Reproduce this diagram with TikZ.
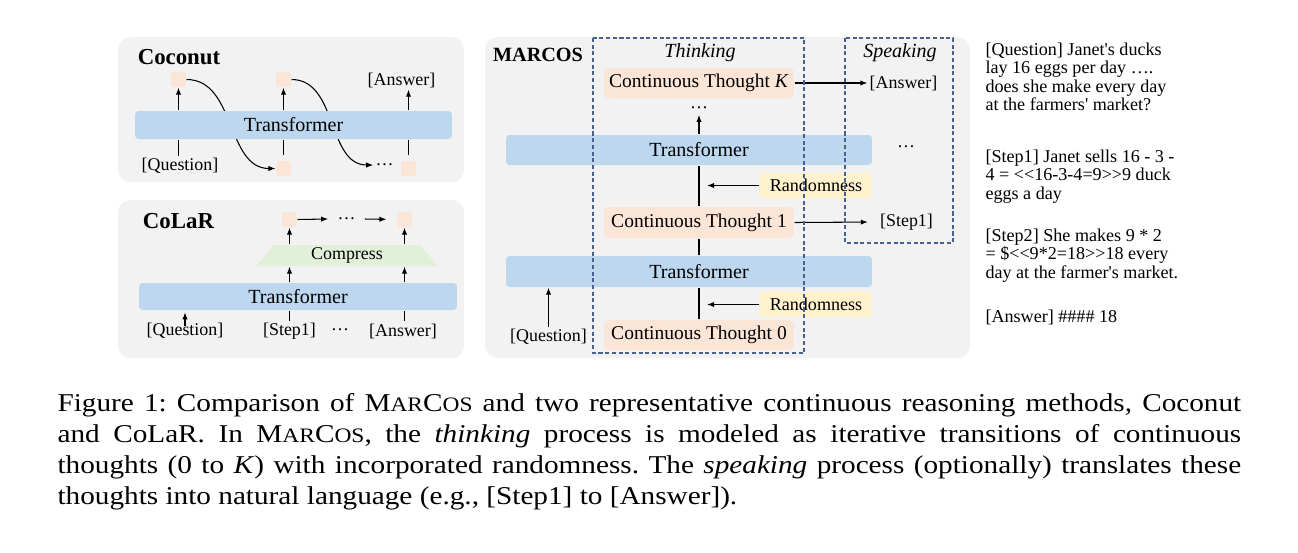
\documentclass[tikz,border=0pt]{standalone}
\usepackage{fontspec}
\setmainfont{Liberation Serif}
\newfontfamily\notefont{Liberation Serif}[Ligatures=TeXOff]
\newfontfamily\capfont{Liberation Serif}[FakeStretch=1.14]
\usetikzlibrary{shapes.geometric}
\usetikzlibrary{arrows.meta}
\usetikzlibrary{calc}

\definecolor{panelgray}{HTML}{F2F2F2}
\definecolor{barblue}{HTML}{BDD7EE}
\definecolor{tokpeach}{HTML}{FBE5D6}
\definecolor{noiseyellow}{HTML}{FFF2CC}
\definecolor{compgreen}{HTML}{E2F0D9}
\definecolor{dashblue}{HTML}{4A6090}

\newcommand{\smallcap}[1]{{\fontsize{11.7}{17.6}\selectfont #1}}
\newcommand{\marcosname}{M\smallcap{AR}C\smallcap{OS}}
\newcommand{\capsetup}{\frenchspacing\tolerance=9999\relax\hyphenpenalty=10000\relax}

\begin{document}
\begin{tikzpicture}[x=0.02cm, y=-0.02cm, >={Latex[length=4pt,width=3pt]}, semithick,
	panel/.style={fill=panelgray, rounded corners=7pt},
	bar/.style={fill=barblue, rounded corners=2pt, inner sep=0pt, font=\fontsize{11.4}{13}\selectfont},
	tok/.style={fill=tokpeach, rounded corners=1pt, minimum size=0.3cm, inner sep=0pt},
	thought/.style={fill=tokpeach, rounded corners=3pt, minimum width=3.8cm, minimum height=0.62cm, inner sep=0pt, font=\fontsize{11.1}{13}\selectfont},
	noise/.style={fill=noiseyellow, rounded corners=2pt, minimum width=2.24cm, minimum height=0.5cm, inner sep=0pt, font=\fontsize{10.3}{12}\selectfont},
	lbl/.style={inner sep=1pt, font=\fontsize{10.2}{12}\selectfont},
	title/.style={font=\fontsize{13}{15}\selectfont\bfseries},
	phase/.style={font=\fontsize{11.4}{13}\selectfont\itshape},
	phasebox/.style={draw=dashblue, dash pattern=on 2.3pt off 1.5pt, line width=0.6pt},
	note/.style={anchor=north west, align=left, inner sep=0pt, font=\notefont\fontsize{10.3}{10.6}\selectfont}]

	\useasboundingbox (0,0) rectangle (1298,552);

	% panels
	\fill[panel] (118,37) rectangle (464,182);
	\fill[panel] (118,200) rectangle (464,358);
	\fill[panel] (485,37) rectangle (970,358);

	% Coconut
	\node[title] (cotitle) at (179,57) {Coconut};
	\node[tok] (ca1) at (178.5,79.5) {};
	\node[tok] (ca2) at (283.5,79.5) {};
	\node[lbl] (cans) at (401.5,80) {[Answer]};
	\node[tok] (cb2) at (283.5,168.5) {};
	\node[tok] (cb3) at (408.5,168.5) {};
	\node[lbl] (cq) at (180,166) {[Question]};
	\node[lbl] (cdots) at (384.5,165) {\dots};
	\draw[->] (ca1.east) to[out=0,in=180] (cb2.west);
	\draw[->] (ca2.east) to[out=0,in=180] (cdots.west);
	\node[bar, minimum width=6.34cm, minimum height=0.56cm] (cbar) at (293.5,125) {Transformer};
	\draw[->] (cbar.north -| ca1) -- (ca1.south);
	\draw[->] (cbar.north -| ca2) -- (ca2.south);
	\draw[->] (cbar.north -| cb3) -- (cans.south -| cb3);
	\draw (cbar.south -| ca1) -- (cq.north -| ca1);
	\draw[shorten >=0.1cm] (cbar.south -| cb2) -- (cb2.north);
	\draw[shorten >=0.1cm] (cbar.south -| cb3) -- (cb3.north);

	% CoLaR
	\node[title] (cltitle) at (178.5,221) {CoLaR};
	\node[tok] (la1) at (289.5,219.5) {};
	\node[tok] (la2) at (404.5,219.5) {};
	\node[lbl, inner sep=5pt] (ldots) at (346.5,219) {\dots};
	\draw[->] (la1.east) -- (ldots.west);
	\draw[->, shorten >=0.2cm] (ldots.east) -- (la2.west);
	\node[trapezium, trapezium angle=62, trapezium stretches=true, minimum width=3.64cm, minimum height=0.42cm,
		fill=compgreen, inner sep=0pt, font=\fontsize{10.2}{12}\selectfont] (comp) at (347,255.5) {Compress};
	\node[bar, minimum width=6.36cm, minimum height=0.54cm] (lbar) at (298,296.5) {Transformer};
	\draw[->] (lbar.north -| la1) -- (comp.south -| la1);
	\draw[->] (lbar.north -| la2) -- (comp.south -| la2);
	\draw[->] (comp.north -| la1) -- (la1.south);
	\draw[->] (comp.north -| la2) -- (la2.south);
	\node[lbl] (lq) at (185,331) {[Question]};
	\node[lbl] (ls1) at (289.5,331) {[Step1]};
	\node[lbl] (ldots2) at (340,330) {\dots};
	\node[lbl] (lans) at (403,331) {[Answer]};
	\draw[->, shorten >=1pt] ([yshift=-3pt]lq.north) -- (lq.north |- lbar.south);
	\draw (ls1.north) -- (ls1.north |- lbar.south);
	\draw (lans.north -| la2) -- (lbar.south -| la2);

	% MARCOS
	\node[title, font=\fontsize{11.5}{14}\selectfont\bfseries] (mtitle) at (538,55) {MARCOS};
	\node[phase] (think) at (700,53) {Thinking};
	\node[phase] (speak) at (900,53) {Speaking};
	\node[thought] (ctK) at (699,83) {Continuous Thought \textit{K}};
	\node[lbl] (ansK) at (903.5,83) {[Answer]};
	\draw[->] (ctK.east) -- (ansK.west);
	\node[lbl] (mdots) at (699,108) {\dots};
	\node[bar, minimum width=7.32cm, minimum height=0.6cm] (ubar) at (689,150) {};
	\node[bar, fill=none] (ubartext) at (ubar.center -| ctK) {Transformer};
	\node[lbl] (rdots) at (906,147) {\dots};
	\node[noise] (rnd1) at (816,185.5) {Randomness};
	\node[thought] (ct1) at (699,222.5) {Continuous Thought 1};
	\node[lbl] (s1) at (906.5,222) {[Step1]};
	\draw[->, shorten >=0.2cm] (ct1.east) -- (s1.west);
	\node[bar, minimum width=7.32cm, minimum height=0.62cm] (dbar) at (689,271.5) {};
	\node[bar, fill=none] (dbartext) at (dbar.center -| ct1) {Transformer};
	\node[noise] (rnd0) at (816,304.5) {Randomness};
	\node[thought, minimum height=0.6cm] (ct0) at (699,335) {Continuous Thought 0};
	\node[lbl] (mq) at (548.5,337) {[Question]};
	\draw[->] (mq.north) -- (mq.north |- dbar.south);
	\draw (ct0.north) -- (dbar.south -| ct0);
	\draw (dbar.north -| ct1) -- (ct1.south);
	\draw (ct1.north) -- (ubar.south -| ct1);
	\draw[->, shorten >=2pt] (ubar.north -| ctK) -- (mdots.south);
	\draw[->, shorten >=0.16cm] (rnd1.west) -- (rnd1.west -| ct1);
	\draw[->, shorten >=0.16cm] (rnd0.west) -- (rnd0.west -| ct0);

	\draw[phasebox] (593,38) rectangle (804,353);
	\draw[phasebox] (845,38) rectangle (953,243);

	% sample text
	\node[note] (pq) at (985,42) {[Question] Janet's ducks\\lay 16 eggs per day ….\\does she make every day\\at the farmers' market?};
	\node[note] (ps1) at (985,149) {[Step1] Janet sells 16 - 3 -\\4 = <<16-3-4=9>>9 duck\\eggs a day};
	\node[note] (ps2) at (985,228) {[Step2] She makes 9 * 2\\= \$<<9*2=18>>18 every\\day at the farmer's market.};
	\node[note] (pans) at (985,309) {[Answer] \#\#\#\# 18};

	% caption
	\node[anchor=north west, inner sep=0pt, font=\capfont\fontsize{14.6}{17.6}\selectfont] (cap) at (57,393)
		{\parbox[t]{23.68cm}{\capsetup Figure 1: Comparison of \marcosname{} and two representative continuous reasoning methods, Coconut\linebreak
		and CoLaR. In \marcosname, the \textit{thinking} process is modeled as iterative transitions of continuous\linebreak
		thoughts (0 to \textit{K}) with incorporated randomness. The \textit{speaking} process (optionally) translates these\linebreak
		thoughts into natural language (e.g., [Step1] to [Answer]).}};
\end{tikzpicture}
\end{document}
